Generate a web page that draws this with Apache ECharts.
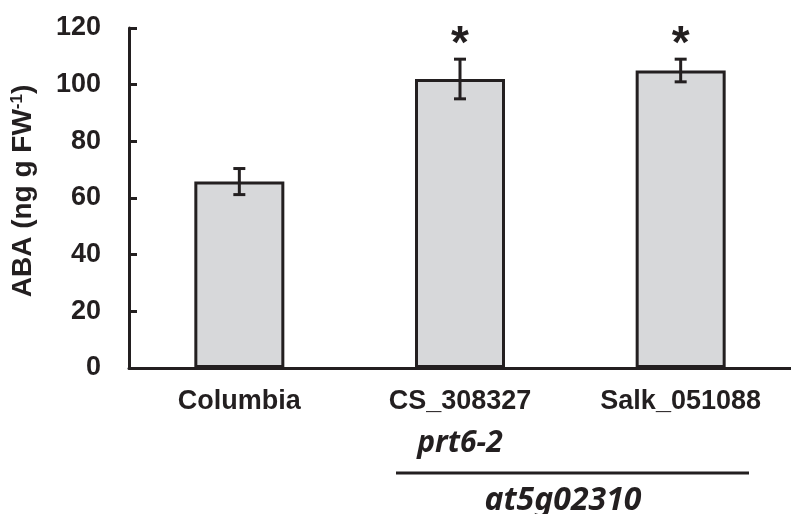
<!DOCTYPE html>
<html>
<head>
<meta charset="utf-8">
<script src="https://cdn.jsdelivr.net/npm/echarts@6/dist/echarts.min.js"></script>
<style>html,body{margin:0;padding:0;background:#fff;}#c{width:791px;height:514px;}</style>
</head>
<body>
<div id="c"></div>
<script>
var categories = ['Columbia', 'CS_308327', 'Salk_051088'];
var values = [65.8, 102, 105];
var errors = [4.6, 7, 4];
var significance = ['', '*', '*'];
var yTicks = [0, 20, 40, 60, 80, 100, 120];

var INK = '#231f20';
var chart = echarts.init(document.getElementById('c'), null, {renderer: 'canvas'});
var errData = categories.map(function (c, i) { return [i, values[i], errors[i], significance[i]]; });

chart.setOption({
  animation: false,
  backgroundColor: '#ffffff',
  grid: {left: 129, top: 28, bottom: 146, width: 666},
  xAxis: {
    type: 'category',
    data: categories,
    axisLine: {lineStyle: {color: INK, width: 3}},
    axisTick: {show: false},
    axisLabel: {
      margin: 20,
      color: INK,
      fontFamily: 'Liberation Sans',
      fontWeight: 'bold',
      fontSize: 27,
      formatter: function (v) { return v === 'CS_308327' ? v + '\n{i|prt6-2}' : v; },
      rich: {
        i: {fontFamily: 'Noto Sans', fontStyle: 'italic', fontWeight: 'bold', fontSize: 30, color: INK, lineHeight: 44, padding: [13, 0, 0, 0]}
      }
    }
  },
  yAxis: {
    type: 'value',
    min: yTicks[0],
    max: yTicks[yTicks.length - 1],
    interval: 20,
    splitLine: {show: false},
    axisLine: {show: true, lineStyle: {color: INK, width: 3}},
    axisTick: {show: true, inside: true, length: 8, lineStyle: {color: INK, width: 3}},
    axisLabel: {margin: 28, color: INK, fontFamily: 'Liberation Sans', fontWeight: 'bold', fontSize: 27},
    name: 'ABA (ng g FW{sup|-1})',
    nameLocation: 'middle',
    nameRotate: 90,
    nameGap: 92,
    nameTextStyle: {
      color: INK, fontFamily: 'Liberation Sans', fontWeight: 'bold', fontSize: 28,
      padding: [0, 0, 0, 14],
      rich: {sup: {color: INK, fontFamily: 'Liberation Sans', fontWeight: 'bold', fontSize: 17, verticalAlign: 'top', lineHeight: 14}}
    }
  },
  series: [
    {
      type: 'bar',
      data: values,
      barWidth: 90,
      itemStyle: {color: '#d7d8da', borderColor: INK, borderWidth: 3}
    },
    {
      type: 'custom',
      data: errData,
      encode: {x: 0, y: 1},
      z: 5,
      renderItem: function (params, api) {
        var x = api.value(0), v = api.value(1), e = api.value(2);
        var s = significance[params.dataIndex];
        var top = api.coord([x, v + e]);
        var bot = api.coord([x, v - e]);
        var hw = 6;
        var st = {stroke: INK, lineWidth: 3};
        var children = [
          {type: 'line', shape: {x1: top[0], y1: top[1], x2: bot[0], y2: bot[1]}, style: st},
          {type: 'line', shape: {x1: top[0] - hw, y1: top[1], x2: top[0] + hw, y2: top[1]}, style: st},
          {type: 'line', shape: {x1: bot[0] - hw, y1: bot[1], x2: bot[0] + hw, y2: bot[1]}, style: st}
        ];
        if (s) {
          children.push({type: 'text', x: top[0], y: top[1] + 9,
            style: {text: s, fill: INK, font: 'bold 46px Liberation Sans', textAlign: 'center', textVerticalAlign: 'bottom'}});
        }
        return {type: 'group', children: children};
      }
    }
  ],
  graphic: [
    {type: 'line', shape: {x1: 396, y1: 473, x2: 749, y2: 473}, style: {stroke: INK, lineWidth: 3}},
    {type: 'text', x: 563, y: 501, style: {text: 'at5g02310', fill: INK, font: 'italic bold 32px "Noto Sans"', textAlign: 'center', textVerticalAlign: 'middle'}}
  ]
});
</script>
</body>
</html>
